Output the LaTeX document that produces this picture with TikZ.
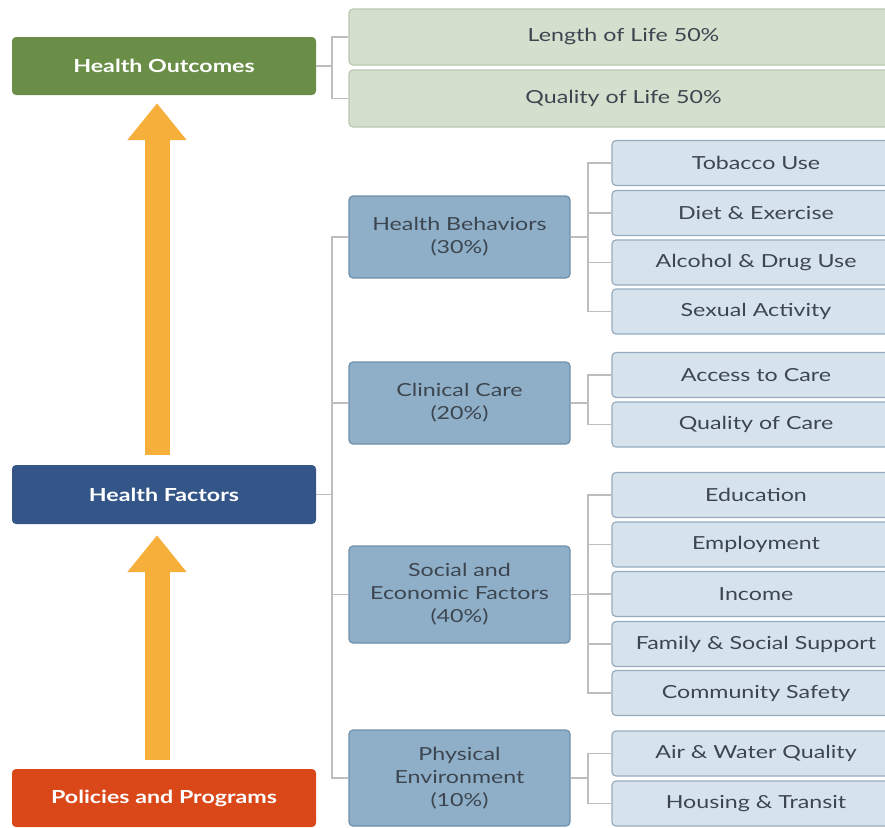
\documentclass[tikz,border=0pt]{standalone}
\usepackage{fontspec}
\setmainfont{Lato}[FakeStretch=1.29]
\usetikzlibrary{arrows.meta}
\definecolor{outgreen}{RGB}{106,142,72}
\definecolor{facblue}{RGB}{52,85,135}
\definecolor{polred}{RGB}{218,72,26}
\definecolor{arrgold}{RGB}{247,175,60}
\definecolor{midfill}{RGB}{143,175,200}
\definecolor{midline}{RGB}{112,144,170}
\definecolor{itemfill}{RGB}{214,227,237}
\definecolor{itemline}{RGB}{150,172,190}
\definecolor{lifefill}{RGB}{212,223,205}
\definecolor{lifeline}{RGB}{185,200,178}
\definecolor{linkgrey}{RGB}{190,190,190}
\definecolor{txtgrey}{RGB}{60,70,80}
\tikzset{
  mainbox/.style={rectangle, rounded corners=4pt, minimum width=304pt, minimum height=58pt, text=white, font=\fontsize{18}{23}\selectfont\bfseries},
  lifebox/.style={rectangle, rounded corners=4pt, draw=lifeline, fill=lifefill, line width=1.2pt, minimum width=549pt, minimum height=56pt, text=txtgrey, font=\fontsize{18}{23}\selectfont},
  midbox/.style={rectangle, rounded corners=4pt, draw=midline, fill=midfill, line width=1.2pt, minimum width=221pt, align=center, text=txtgrey, font=\fontsize{18}{23}\selectfont},
  itembox/.style={rectangle, rounded corners=4pt, draw=itemline, fill=itemfill, line width=1.2pt, minimum width=288pt, minimum height=45pt, text=txtgrey, font=\fontsize{18}{23}\selectfont},
  link/.style={draw=linkgrey, line width=1.3pt},
  bigarrow/.style={draw=arrgold, line width=25pt, -{Triangle[width=57pt,length=37pt]}}
}
\begin{document}
\begin{tikzpicture}[x=1pt,y=-1pt]
\useasboundingbox (0,0) rectangle (885,827);
\coordinate (tx) at (332,0);
\coordinate (bx) at (588,0);
% left column
\node (HO) at (164,66) [mainbox, fill=outgreen] {Health Outcomes};
\node (HF) at (164,494.5) [mainbox, fill=facblue, minimum height=59pt] {Health Factors};
\node (PP) at (164,798) [mainbox, fill=polred] {Policies and Programs};
\draw [bigarrow] ([xshift=-7pt,yshift=10pt]HF.north) -- ([xshift=-7pt,yshift=-8pt]HO.south);
\draw [bigarrow] ([xshift=-7pt,yshift=9pt]PP.north) -- ([xshift=-7pt,yshift=-11pt]HF.south);
% outcomes
\node (LoL) at (623.5,37) [lifebox] {Length of Life 50\%};
\node (QoL) at (623.5,98.5) [lifebox, minimum height=57pt] {Quality of Life 50\%};
\draw [link] (HO.east) -- (HO.east -| tx);
\draw [link] (LoL.west) -| (QoL.west -| tx) -- (QoL.west);
% factors
\node (HB) at (459.5,237) [midbox, minimum height=82pt] {Health Behaviors\\(30\%)};
\node (CC) at (459.5,403) [midbox, minimum height=82pt] {Clinical Care\\(20\%)};
\node (SE) at (459.5,594.5) [midbox, minimum height=97pt] {Social and\\Economic Factors\\(40\%)};
\node (PE) at (459.5,778) [midbox, minimum height=96pt] {Physical\\Environment\\(10\%)};
\draw [link] (HF.east) -- (HF.east -| tx);
\draw [link] (HB.west) -| (PE.west -| tx) -- (PE.west);
\draw [link] (CC.west) -- (CC.west -| tx);
\draw [link] (SE.west) -- (SE.west -| tx);
% behaviors
\node (TU) at (756,163) [itembox] {Tobacco Use};
\node (DE) at (756,213) [itembox] {Diet \& Exercise};
\node (AD) at (756,262.5) [itembox] {Alcohol \& Drug Use};
\node (SA) at (756,311.5) [itembox] {Sexual Activity};
\draw [link] (HB.east) -- (HB.east -| bx);
\draw [link] (TU.west) -| (SA.west -| bx) -- (SA.west);
\draw [link] (DE.west) -- (DE.west -| bx);
\draw [link] (AD.west) -- (AD.west -| bx);
% clinical care
\node (AC) at (756,375) [itembox] {Access to Care};
\node (QC) at (756,424.5) [itembox] {Quality of Care};
\draw [link] (CC.east) -- (CC.east -| bx);
\draw [link] (AC.west) -| (QC.west -| bx) -- (QC.west);
% social and economic
\node (ED) at (756,495) [itembox] {Education};
\node (EM) at (756,544.5) [itembox] {Employment};
\node (IN) at (756,594) [itembox] {Income};
\node (FS) at (756,644) [itembox] {Family \& Social Support};
\node (CS) at (756,693) [itembox] {Community Safety};
\draw [link] (SE.east) -- (SE.east -| bx);
\draw [link] (ED.west) -| (CS.west -| bx) -- (CS.west);
\draw [link] (EM.west) -- (EM.west -| bx);
\draw [link] (IN.west) -- (IN.west -| bx);
\draw [link] (FS.west) -- (FS.west -| bx);
% physical environment
\node (AW) at (756,753.5) [itembox] {Air \& Water Quality};
\node (HT) at (756,803.5) [itembox] {Housing \& Transit};
\draw [link] (PE.east) -- (PE.east -| bx);
\draw [link] (AW.west) -| (HT.west -| bx) -- (HT.west);
\end{tikzpicture}
\end{document}
